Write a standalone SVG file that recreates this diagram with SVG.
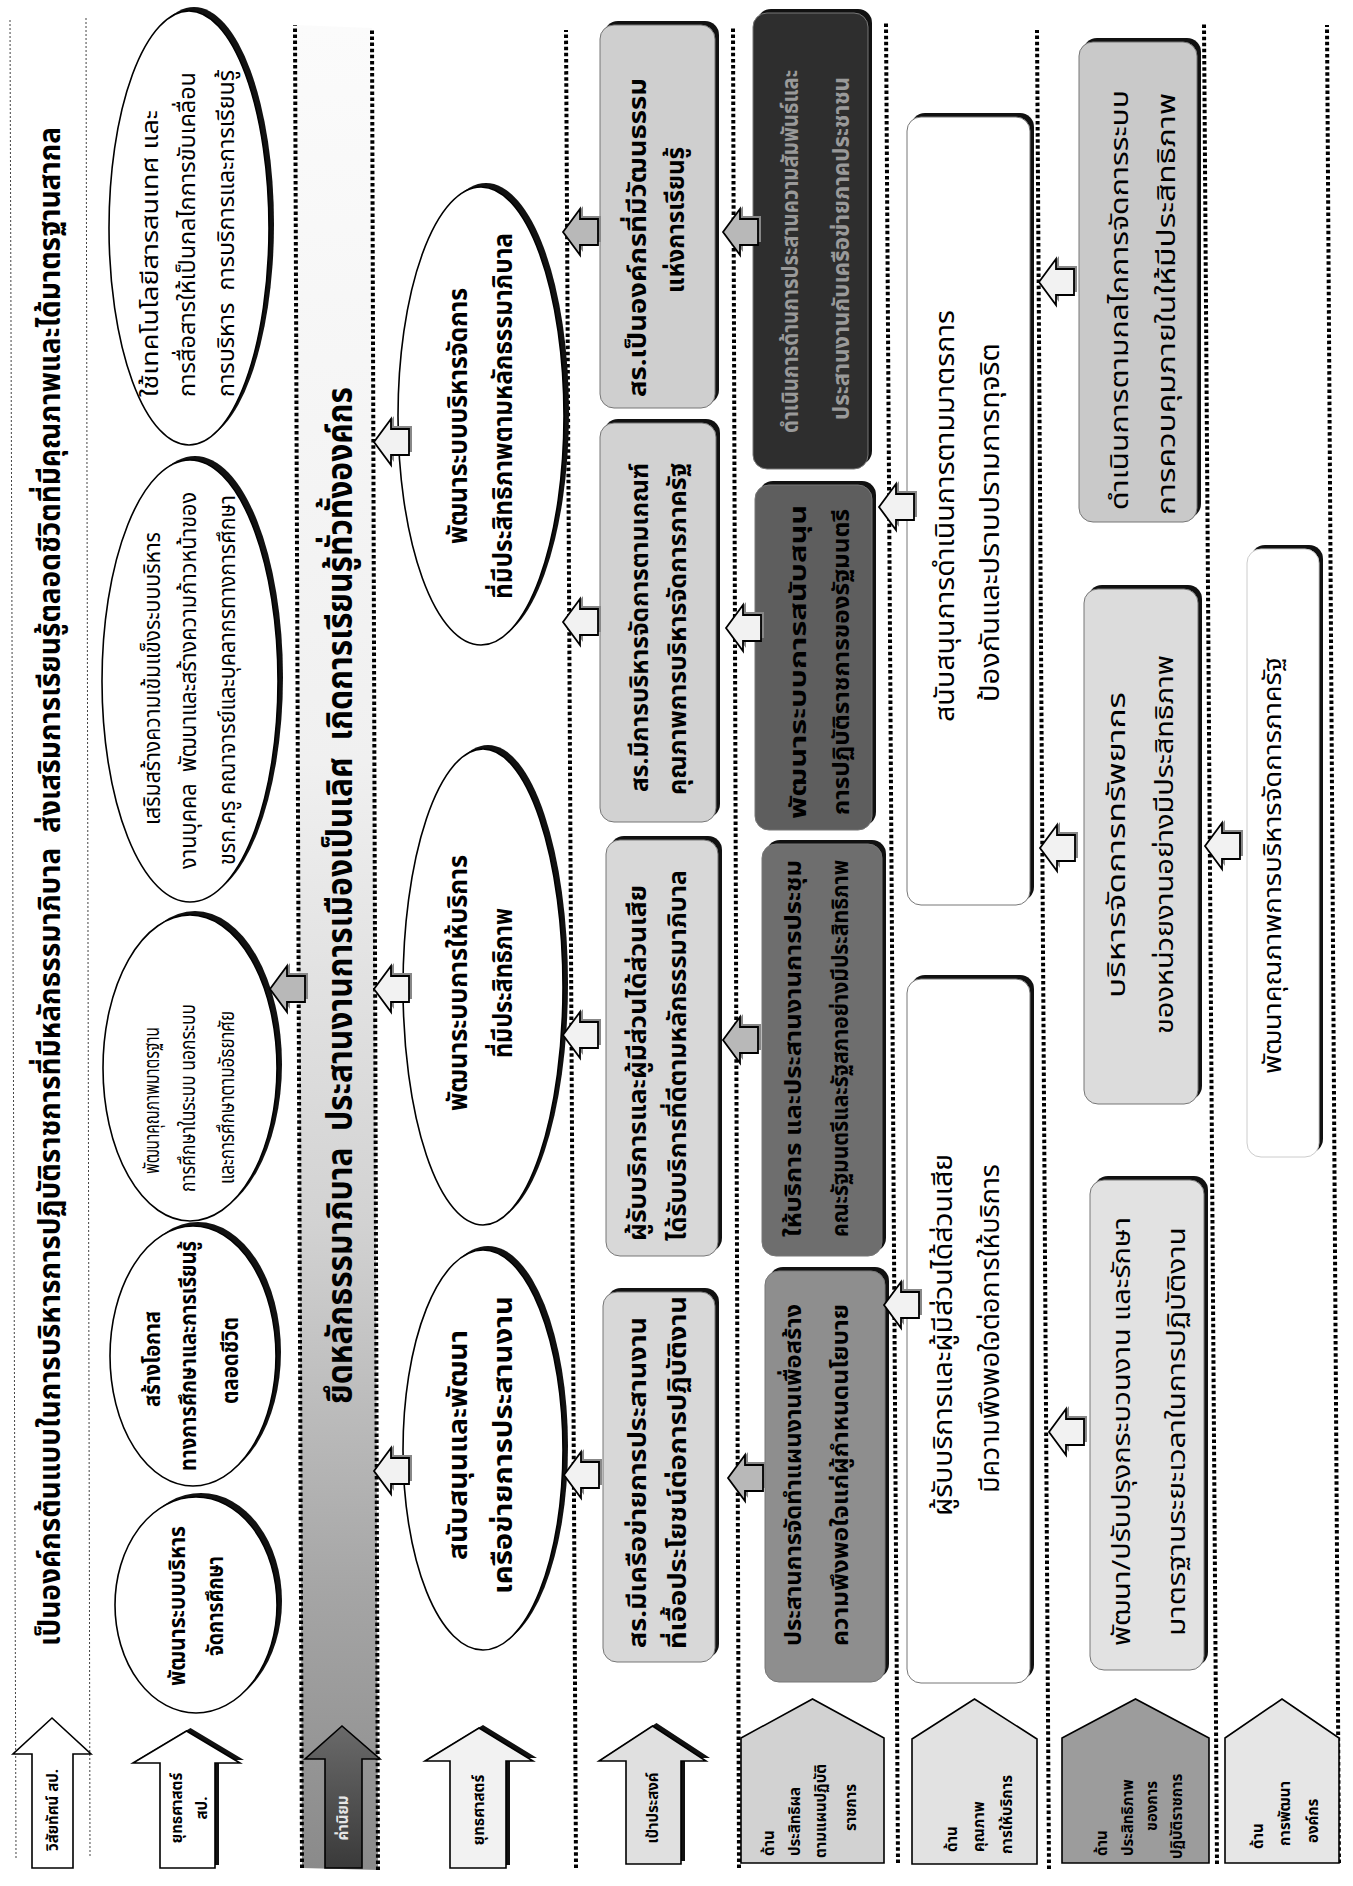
<svg xmlns="http://www.w3.org/2000/svg" width="1353" height="1886" viewBox="0 0 1353 1886">
<defs>
<style>
.t{font-family:'Noto Sans Thai','Noto Sans','DejaVu Sans',sans-serif;fill:#000}
.b{font-weight:bold}
.dot{stroke:#000;stroke-width:4;stroke-dasharray:3.5 2.6;fill:none}
.thin{stroke:#444;stroke-width:1;stroke-dasharray:2 2;fill:none}
.ell{fill:#fff;stroke:#000;stroke-width:1.6}
.sh{fill:#111}
.bx{stroke:#777;stroke-width:1}
.lab{stroke:#000;stroke-width:1.6}
.arr{stroke:#000;stroke-width:1.8;fill:#f2f2f2}
.arrd{stroke:#000;stroke-width:1.8;fill:#b8b8b8}
.ash{fill:#888}
</style>
<linearGradient id="band" x1="0" y1="0" x2="1" y2="0">
<stop offset="0" stop-color="#8a8a8a"/>
<stop offset="0.15" stop-color="#a5a5a5"/>
<stop offset="0.35" stop-color="#d2d2d2"/>
<stop offset="0.6" stop-color="#f0f0f0"/>
<stop offset="1" stop-color="#fbfbfb"/>
</linearGradient>
<linearGradient id="darkarr" x1="0" y1="0" x2="1" y2="0">
<stop offset="0" stop-color="#3a3a3a"/>
<stop offset="1" stop-color="#6a6a6a"/>
</linearGradient>
<path id="sa" d="M0,0 L23,17 L13,17 L13,35 L-13,35 L-13,17 L-23,17 Z"/>
</defs>
<rect x="0" y="0" width="1353" height="1886" fill="#fff"/>
<g transform="translate(0,1886) rotate(-90)">

<g id="bands">
<polygon points="18,302 1861,295 1858,372 16,378" fill="url(#band)"/>
<line class="thin" x1="28" y1="16" x2="1868" y2="10"/>
<line class="thin" x1="30" y1="90" x2="1868" y2="86"/>
<line class="dot" x1="18" y1="302" x2="1861" y2="295"/>
<line class="dot" x1="16" y1="378" x2="1858" y2="372"/>
<line class="dot" x1="18" y1="576" x2="1856" y2="566"/>
<line class="dot" x1="18" y1="739" x2="1859" y2="733"/>
<line class="dot" x1="23" y1="898" x2="1863" y2="886"/>
<line class="dot" x1="17" y1="1049" x2="1856" y2="1037"/>
<line class="dot" x1="22" y1="1217" x2="1863" y2="1204"/>
<line class="dot" x1="23" y1="1339" x2="1861" y2="1327"/>
</g>

<!-- row labels -->
<g id="label-vision">
<polygon class="lab" fill="#fff" points="18,32 132,32 132,13 168,52 132,91 132,73 18,73"/>
<text class="t b" x="76" y="58" font-size="15" text-anchor="middle">วิสัยทัศน์ สป.</text>
</g>
<g id="label-strategy-sp">
<polygon class="sh" points="21,164 126,164 126,137 158,190.5 126,244 126,219 21,219"/>
<polygon class="lab" fill="#fff" points="18,160 123,160 123,133 155,186.5 123,240 123,215 18,215"/>
<text class="t b" x="78" y="182" font-size="15" text-anchor="middle">ยุทธศาสตร์</text>
<text class="t b" x="78" y="207" font-size="15" text-anchor="middle">สป.</text>
</g>
<g id="label-values">
<polygon class="lab" fill="url(#darkarr)" points="18,325 127,325 127,305 160,342 127,380 127,362 18,362"/>
<text class="t b" x="68" y="348" font-size="15" text-anchor="middle" style="fill:#e6e6e6">ค่านิยม</text>
</g>
<g id="label-strategy">
<polygon class="sh" points="21,454 128,454 128,429 161,483 128,537 128,510 21,510"/>
<polygon class="lab" fill="#f2f2f2" points="18,450 125,450 125,425 158,479 125,533 125,506 18,506"/>
<text class="t b" x="76" y="484" font-size="15" text-anchor="middle">ยุทธศาสตร์</text>
</g>
<g id="label-goal">
<polygon class="sh" points="25,630 128,630 128,603 163,656.5 128,710 128,685 25,685"/>
<polygon class="lab" fill="#e0e0e0" points="22,626 125,626 125,599 160,652.5 125,706 125,681 22,681"/>
<text class="t b" x="78" y="658" font-size="15" text-anchor="middle">เป้าประสงค์</text>
</g>
<g id="label-effectiveness">
<polygon class="lab" fill="#d2d2d2" points="23,741 148,741 187,812.5 148,884 23,884"/>
<text class="t b" font-size="15"><tspan x="30" y="774">ด้าน</tspan><tspan x="30" y="800">ประสิทธิผล</tspan><tspan x="28" y="826">ตามแผนปฏิบัติ</tspan><tspan x="55" y="856">ราชการ</tspan></text>
</g>
<g id="label-quality">
<polygon class="lab" fill="#e2e2e2" points="22,912 147,912 187,974.5 147,1037 22,1037"/>
<text class="t b" font-size="15"><tspan x="34" y="957">ด้าน</tspan><tspan x="34" y="984">คุณภาพ</tspan><tspan x="32" y="1012">การให้บริการ</tspan></text>
</g>
<g id="label-efficiency">
<polygon class="lab" fill="#9c9c9c" points="23,1062 148,1062 187,1135.5 148,1209 23,1209"/>
<text class="t b" font-size="15"><tspan x="30" y="1107">ด้าน</tspan><tspan x="30" y="1133">ประสิทธิภาพ</tspan><tspan x="55" y="1157">ของการ</tspan><tspan x="27" y="1182">ปฏิบัติราชการ</tspan></text>
</g>
<g id="label-development">
<polygon class="lab" fill="#e6e6e6" points="23,1225 148,1225 187,1282 148,1339 23,1339"/>
<text class="t b" font-size="15"><tspan x="37" y="1263">ด้าน</tspan><tspan x="40" y="1290">การพัฒนา</tspan><tspan x="43" y="1318">องค์กร</tspan></text>
</g>

<!-- vision & values -->
<g id="vision">
<text class="t b" x="999.5" y="60" font-size="30" text-anchor="middle" textLength="1519" lengthAdjust="spacingAndGlyphs" xml:space="preserve">เป็นองค์กรต้นแบบในการบริหารการปฏิบัติราชการที่มีหลักธรรมาภิบาล  ส่งเสริมการเรียนรู้ตลอดชีวิตที่มีคุณภาพและได้มาตรฐานสากล</text>
</g>
<g id="values">
<text class="t b" x="990.5" y="352" font-size="36" text-anchor="middle" textLength="1017" lengthAdjust="spacingAndGlyphs" xml:space="preserve">ยึดหลักธรรมาภิบาล  ประสานงานการเมืองเป็นเลิศ  เกิดการเรียนรู้ทั่วทั้งองค์กร</text>
</g>

<!-- strategies of SP (ellipses) -->
<g id="sp1">
<ellipse class="sh" cx="1662" cy="194" rx="217" ry="80"/>
<ellipse class="ell" cx="1658" cy="189" rx="217" ry="80"/>
<text class="t" x="1632.5" y="158" font-size="23" text-anchor="middle" textLength="287" lengthAdjust="spacingAndGlyphs">ใช้เทคโนโลยีสารสนเทศ และ</text>
<text class="t" x="1651.5" y="195" font-size="23" text-anchor="middle" textLength="325" lengthAdjust="spacingAndGlyphs">การสื่อสารให้เป็นกลไกการขับเคลื่อน</text>
<text class="t" x="1652.5" y="234" font-size="23" text-anchor="middle" textLength="327" lengthAdjust="spacingAndGlyphs" xml:space="preserve">การบริหาร  การบริการและการเรียนรู้</text>
</g>
<g id="sp2">
<ellipse class="sh" cx="1209" cy="195" rx="221" ry="88"/>
<ellipse class="ell" cx="1205" cy="190" rx="221" ry="88"/>
<text class="t" x="1207.5" y="160" font-size="23" text-anchor="middle" textLength="293" lengthAdjust="spacingAndGlyphs">เสริมสร้างความเข้มแข็งระบบบริหาร</text>
<text class="t" x="1205.5" y="196" font-size="23" text-anchor="middle" textLength="377" lengthAdjust="spacingAndGlyphs" xml:space="preserve">งานบุคคล  พัฒนาและสร้างความก้าวหน้าของ</text>
<text class="t" x="1206" y="235" font-size="23" text-anchor="middle" textLength="370" lengthAdjust="spacingAndGlyphs">ขรก.ครู คณาจารย์และบุคลากรทางการศึกษา</text>
</g>
<g id="sp3">
<ellipse class="sh" cx="822" cy="195" rx="153" ry="87"/>
<ellipse class="ell" cx="818" cy="190" rx="153" ry="87"/>
<text class="t" x="785.5" y="159" font-size="21" text-anchor="middle" textLength="147" lengthAdjust="spacingAndGlyphs">พัฒนาคุณภาพมาตรฐาน</text>
<text class="t" x="788" y="195" font-size="21" text-anchor="middle" textLength="188" lengthAdjust="spacingAndGlyphs">การศึกษาในระบบ นอกระบบ</text>
<text class="t" x="788.5" y="234" font-size="21" text-anchor="middle" textLength="173" lengthAdjust="spacingAndGlyphs">และการศึกษาตามอัธยาศัย</text>
</g>
<g id="sp4">
<ellipse class="sh" cx="534" cy="198" rx="130" ry="83"/>
<ellipse class="ell" cx="530" cy="193" rx="130" ry="83"/>
<text class="t b" x="527" y="160" font-size="23" text-anchor="middle" textLength="96" lengthAdjust="spacingAndGlyphs">สร้างโอกาส</text>
<text class="t b" x="530" y="196" font-size="23" text-anchor="middle" textLength="230" lengthAdjust="spacingAndGlyphs">ทางการศึกษาและการเรียนรู้</text>
<text class="t b" x="525.5" y="238" font-size="23" text-anchor="middle" textLength="87" lengthAdjust="spacingAndGlyphs">ตลอดชีวิต</text>
</g>
<g id="sp5">
<ellipse class="sh" cx="285" cy="201" rx="108" ry="81"/>
<ellipse class="ell" cx="281" cy="196" rx="108" ry="81"/>
<text class="t b" x="280" y="185" font-size="23" text-anchor="middle" textLength="160" lengthAdjust="spacingAndGlyphs">พัฒนาระบบบริหาร</text>
<text class="t b" x="280" y="223" font-size="23" text-anchor="middle" textLength="100" lengthAdjust="spacingAndGlyphs">จัดการศึกษา</text>
</g>

<!-- strategies (ellipses) -->
<g id="st1">
<ellipse class="sh" cx="1474" cy="486" rx="229" ry="83"/>
<ellipse class="ell" cx="1470" cy="481" rx="229" ry="83"/>
<text class="t b" x="1470" y="467" font-size="26" text-anchor="middle" textLength="256" lengthAdjust="spacingAndGlyphs">พัฒนาระบบบริหารจัดการ</text>
<text class="t b" x="1470" y="512" font-size="26" text-anchor="middle" textLength="366" lengthAdjust="spacingAndGlyphs">ที่มีประสิทธิภาพตามหลักธรรมาภิบาล</text>
</g>
<g id="st2">
<ellipse class="sh" cx="903" cy="488" rx="238" ry="80"/>
<ellipse class="ell" cx="899" cy="483" rx="238" ry="80"/>
<text class="t b" x="903" y="467" font-size="26" text-anchor="middle" textLength="256" lengthAdjust="spacingAndGlyphs">พัฒนาระบบการให้บริการ</text>
<text class="t b" x="903" y="512" font-size="26" text-anchor="middle" textLength="150" lengthAdjust="spacingAndGlyphs">ที่มีประสิทธิภาพ</text>
</g>
<g id="st3">
<ellipse class="sh" cx="440" cy="488" rx="200" ry="80"/>
<ellipse class="ell" cx="436" cy="483" rx="200" ry="80"/>
<text class="t b" x="441" y="467" font-size="26" text-anchor="middle" textLength="230" lengthAdjust="spacingAndGlyphs">สนับสนุนและพัฒนา</text>
<text class="t b" x="441" y="512" font-size="26" text-anchor="middle" textLength="298" lengthAdjust="spacingAndGlyphs">เครือข่ายการประสานงาน</text>
</g>

<!-- goals -->
<g id="goal-d">
<rect class="sh" x="1482" y="604" width="383" height="115" rx="14"/>
<rect class="bx" x="1478" y="600" width="383" height="115" rx="14" fill="#cfcfcf"/>
<text class="t b" x="1648.5" y="646" font-size="25" text-anchor="middle" textLength="319" lengthAdjust="spacingAndGlyphs">สร.เป็นองค์กรที่มีวัฒนธรรม</text>
<text class="t b" x="1666" y="684" font-size="25" text-anchor="middle" textLength="146" lengthAdjust="spacingAndGlyphs">แห่งการเรียนรู้</text>
</g>
<g id="goal-c">
<rect class="sh" x="1068" y="604" width="399" height="116" rx="14"/>
<rect class="bx" x="1064" y="600" width="399" height="116" rx="14" fill="#d2d2d2"/>
<text class="t b" x="1258.5" y="648" font-size="25" text-anchor="middle" textLength="329" lengthAdjust="spacingAndGlyphs">สร.มีการบริหารจัดการตามเกณฑ์</text>
<text class="t b" x="1257" y="686" font-size="25" text-anchor="middle" textLength="332" lengthAdjust="spacingAndGlyphs">คุณภาพการบริหารจัดการภาครัฐ</text>
</g>
<g id="goal-b">
<rect class="sh" x="634" y="610" width="416" height="112" rx="14"/>
<rect class="bx" x="630" y="606" width="416" height="112" rx="14" fill="#d8d8d8"/>
<text class="t b" x="823" y="646" font-size="25" text-anchor="middle" textLength="356" lengthAdjust="spacingAndGlyphs">ผู้รับบริการและผู้มีส่วนได้ส่วนเสีย</text>
<text class="t b" x="830.5" y="686" font-size="25" text-anchor="middle" textLength="371" lengthAdjust="spacingAndGlyphs">ได้รับบริการที่ดีตามหลักธรรมาภิบาล</text>
</g>
<g id="goal-a">
<rect class="sh" x="228" y="607" width="370" height="112" rx="14"/>
<rect class="bx" x="224" y="603" width="370" height="112" rx="14" fill="#d8d8d8"/>
<text class="t b" x="403.5" y="646" font-size="25" text-anchor="middle" textLength="331" lengthAdjust="spacingAndGlyphs">สร.มีเครือข่ายการประสานงาน</text>
<text class="t b" x="413.5" y="686" font-size="25" text-anchor="middle" textLength="353" lengthAdjust="spacingAndGlyphs">ที่เอื้อประโยชน์ต่อการปฏิบัติงาน</text>
</g>

<!-- effectiveness -->
<g id="eff-h">
<rect class="sh" x="1421" y="757" width="456" height="115" rx="14"/>
<rect class="bx" x="1417" y="753" width="456" height="115" rx="14" fill="#2e2e2e"/>
<text class="t b" x="1634.5" y="798" font-size="23" text-anchor="middle" textLength="363" lengthAdjust="spacingAndGlyphs" style="fill:#9a9a9a">ดำเนินการด้านการประสานความสัมพันธ์และ</text>
<text class="t b" x="1637.5" y="849" font-size="23" text-anchor="middle" textLength="343" lengthAdjust="spacingAndGlyphs" style="fill:#9a9a9a">ประสานงานกับเครือข่ายภาคประชาชน</text>
</g>
<g id="eff-g">
<rect class="sh" x="1060" y="759" width="345" height="117" rx="14"/>
<rect class="bx" x="1056" y="755" width="345" height="117" rx="14" fill="#5e5e5e"/>
<text class="t b" x="1224" y="806" font-size="23" text-anchor="middle" textLength="314" lengthAdjust="spacingAndGlyphs">พัฒนาระบบการสนับสนุน</text>
<text class="t b" x="1224" y="849" font-size="23" text-anchor="middle" textLength="306" lengthAdjust="spacingAndGlyphs">การปฏิบัติราชการของรัฐมนตรี</text>
</g>
<g id="eff-f">
<rect class="sh" x="634" y="766" width="412" height="120" rx="14"/>
<rect class="bx" x="630" y="762" width="412" height="120" rx="14" fill="#6e6e6e"/>
<text class="t b" x="837.5" y="801" font-size="23" text-anchor="middle" textLength="377" lengthAdjust="spacingAndGlyphs">ให้บริการ และประสานงานการประชุม</text>
<text class="t b" x="837.5" y="848" font-size="23" text-anchor="middle" textLength="377" lengthAdjust="spacingAndGlyphs">คณะรัฐมนตรีและรัฐสภาอย่างมีประสิทธิภาพ</text>
</g>
<g id="eff-e">
<rect class="sh" x="208" y="769" width="411" height="120" rx="14"/>
<rect class="bx" x="204" y="765" width="411" height="120" rx="14" fill="#8e8e8e"/>
<text class="t b" x="411" y="801" font-size="23" text-anchor="middle" textLength="342" lengthAdjust="spacingAndGlyphs">ประสานการจัดทำแผนงานเพื่อสร้าง</text>
<text class="t b" x="411" y="848" font-size="23" text-anchor="middle" textLength="342" lengthAdjust="spacingAndGlyphs">ความพึงพอใจแก่ผู้กำหนดนโยบาย</text>
</g>

<!-- quality -->
<g id="qual-j">
<rect class="sh" x="985" y="911" width="788" height="123" rx="14"/>
<rect class="bx" x="981" y="907" width="788" height="123" rx="14" fill="#fff"/>
<text class="t" x="1370" y="954" font-size="26" text-anchor="middle" textLength="412" lengthAdjust="spacingAndGlyphs">สนับสนุนการดำเนินการตามมาตรการ</text>
<text class="t" x="1363.5" y="999" font-size="26" text-anchor="middle" textLength="359" lengthAdjust="spacingAndGlyphs">ป้องกันและปราบปรามการทุจริต</text>
</g>
<g id="qual-i">
<rect class="sh" x="207" y="911" width="704" height="123" rx="14"/>
<rect class="bx" x="203" y="907" width="704" height="123" rx="14" fill="#fff"/>
<text class="t" x="551" y="952" font-size="26" text-anchor="middle" textLength="362" lengthAdjust="spacingAndGlyphs">ผู้รับบริการและผู้มีส่วนได้ส่วนเสีย</text>
<text class="t" x="557.5" y="999" font-size="26" text-anchor="middle" textLength="329" lengthAdjust="spacingAndGlyphs">มีความพึงพอใจต่อการให้บริการ</text>
</g>

<!-- efficiency -->
<g id="effi-m">
<rect class="sh" x="1368" y="1083" width="480" height="118" rx="14"/>
<rect class="bx" x="1364" y="1079" width="480" height="118" rx="14" fill="#c9c9c9"/>
<text class="t" x="1586" y="1128" font-size="25" text-anchor="middle" textLength="420" lengthAdjust="spacingAndGlyphs">ดำเนินการตามกลไกการจัดการระบบ</text>
<text class="t" x="1582" y="1175" font-size="25" text-anchor="middle" textLength="422" lengthAdjust="spacingAndGlyphs">การควบคุมภายในให้มีประสิทธิภาพ</text>
</g>
<g id="effi-l">
<rect class="sh" x="786" y="1088" width="515" height="114" rx="14"/>
<rect class="bx" x="782" y="1084" width="515" height="114" rx="14" fill="#dcdcdc"/>
<text class="t" x="1041" y="1125" font-size="25" text-anchor="middle" textLength="306" lengthAdjust="spacingAndGlyphs">บริหารจัดการทรัพยากร</text>
<text class="t" x="1041.5" y="1173" font-size="25" text-anchor="middle" textLength="379" lengthAdjust="spacingAndGlyphs">ของหน่วยงานอย่างมีประสิทธิภาพ</text>
</g>
<g id="effi-k">
<rect class="sh" x="220" y="1094" width="490" height="114" rx="14"/>
<rect class="bx" x="216" y="1090" width="490" height="114" rx="14" fill="#e2e2e2"/>
<text class="t" x="454.5" y="1130" font-size="25" text-anchor="middle" textLength="429" lengthAdjust="spacingAndGlyphs">พัฒนา/ปรับปรุงกระบวนงาน และรักษา</text>
<text class="t" x="454.5" y="1185" font-size="25" text-anchor="middle" textLength="409" lengthAdjust="spacingAndGlyphs">มาตรฐานระยะเวลาในการปฏิบัติงาน</text>
</g>

<!-- development -->
<g id="dev-n">
<rect class="sh" x="733" y="1251" width="608" height="72" rx="14"/>
<rect x="729" y="1247" width="608" height="72" rx="14" fill="#fff" stroke="#ccc" stroke-width="1"/>
<text class="t" x="1020.5" y="1281" font-size="25" text-anchor="middle" textLength="417" lengthAdjust="spacingAndGlyphs">พัฒนาคุณภาพการบริหารจัดการภาครัฐ</text>
</g>

<!-- connectors: block arrows pointing to the row above -->
<g id="connectors">
<use href="#sa" x="900" y="273" class="ash"/><use href="#sa" x="897" y="270" class="arrd"/>
<use href="#sa" x="1447" y="377" class="ash"/><use href="#sa" x="1444" y="374" class="arr"/>
<use href="#sa" x="900" y="377" class="ash"/><use href="#sa" x="897" y="374" class="arr"/>
<use href="#sa" x="418" y="377" class="ash"/><use href="#sa" x="415" y="374" class="arr"/>
<use href="#sa" x="1657" y="566" class="ash"/><use href="#sa" x="1654" y="563" class="arrd"/>
<use href="#sa" x="1267" y="566" class="ash"/><use href="#sa" x="1264" y="563" class="arr"/>
<use href="#sa" x="854" y="566" class="ash"/><use href="#sa" x="851" y="563" class="arr"/>
<use href="#sa" x="414" y="567" class="ash"/><use href="#sa" x="411" y="564" class="arr"/>
<use href="#sa" x="1657" y="726" class="ash"/><use href="#sa" x="1654" y="723" class="arrd"/>
<use href="#sa" x="1261" y="729" class="ash"/><use href="#sa" x="1258" y="726" class="arr"/>
<use href="#sa" x="849" y="726" class="ash"/><use href="#sa" x="846" y="723" class="arrd"/>
<use href="#sa" x="411" y="731" class="ash"/><use href="#sa" x="408" y="728" class="arrd"/>
<use href="#sa" x="1382" y="882" class="ash"/><use href="#sa" x="1379" y="879" class="arr"/>
<use href="#sa" x="584" y="887" class="ash"/><use href="#sa" x="581" y="884" class="arr"/>
<use href="#sa" x="1607" y="1042" class="ash"/><use href="#sa" x="1604" y="1039" class="arr"/>
<use href="#sa" x="1041" y="1043" class="ash"/><use href="#sa" x="1038" y="1040" class="arr"/>
<use href="#sa" x="457" y="1052" class="ash"/><use href="#sa" x="454" y="1049" class="arr"/>
<use href="#sa" x="1043" y="1208" class="ash"/><use href="#sa" x="1040" y="1205" class="arr"/>
</g>
</g>
</svg>
